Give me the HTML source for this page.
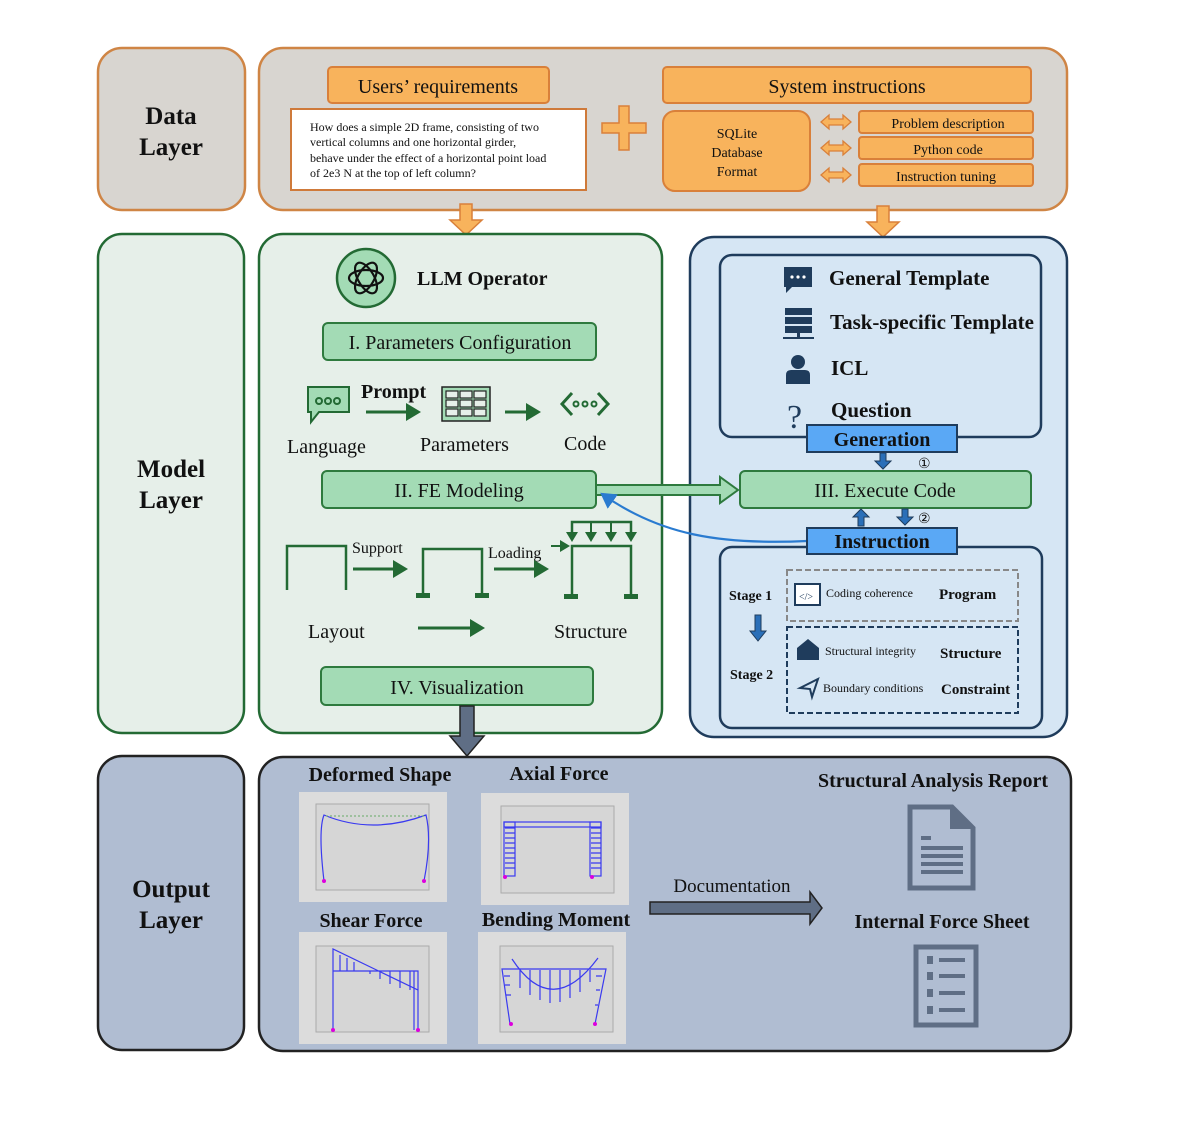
<!DOCTYPE html>
<html><head><meta charset="utf-8"><style>
html,body{margin:0;padding:0;background:#fff}
svg{display:block}
text{font-family:"Liberation Serif",serif;fill:#111}
.b{font-weight:bold}
</style></head><body>
<svg width="1196" height="1141" viewBox="0 0 1196 1141" xmlns="http://www.w3.org/2000/svg">
<defs>
<marker id="ga" markerWidth="6" markerHeight="6" refX="4" refY="3" orient="auto" markerUnits="strokeWidth"><path d="M0,0 L5,3 L0,6 z" fill="#236a34"/></marker>
<marker id="ba" markerWidth="8" markerHeight="8" refX="6" refY="4" orient="auto" markerUnits="strokeWidth"><path d="M0,0 L7,4 L0,8 z" fill="#2a7bd0"/></marker>
</defs>
<!-- DATA LAYER -->
<rect x="98" y="48" width="147" height="162" rx="24" fill="#d8d5d0" stroke="#cf8545" stroke-width="2.5"/>
<text x="171" y="124" font-size="25" class="b" text-anchor="middle">Data</text>
<text x="171" y="155" font-size="25" class="b" text-anchor="middle">Layer</text>
<rect x="259" y="48" width="808" height="162" rx="24" fill="#d8d5d0" stroke="#cf8545" stroke-width="2.5"/>
<rect x="328" y="67" width="221" height="36" rx="4" fill="#f8b35c" stroke="#d9803a" stroke-width="2"/>
<text x="438" y="93" font-size="20" text-anchor="middle">Users’ requirements</text>
<rect x="291" y="109" width="295" height="81" fill="#fff" stroke="#cf7a3a" stroke-width="2"/>
<text font-size="12"><tspan x="310" y="131">How does a simple 2D frame, consisting of two</tspan><tspan x="310" y="146">vertical columns and one horizontal girder,</tspan><tspan x="310" y="162">behave under the effect of a horizontal point load</tspan><tspan x="310" y="177">of 2e3 N at the top of left column?</tspan></text>
<path d="M619,106 h10 v17 h17 v10 h-17 v17 h-10 v-17 h-17 v-10 h17 z" fill="#f8b35c" stroke="#d9803a" stroke-width="1.5"/>
<rect x="663" y="67" width="368" height="36" rx="4" fill="#f8b35c" stroke="#d9803a" stroke-width="2"/>
<text x="847" y="93" font-size="20" text-anchor="middle">System instructions</text>
<rect x="663" y="111" width="147" height="80" rx="12" fill="#f8b35c" stroke="#d9803a" stroke-width="2"/>
<text x="737" y="138" font-size="14" text-anchor="middle">SQLite</text>
<text x="737" y="157" font-size="14" text-anchor="middle">Database</text>
<text x="737" y="176" font-size="14" text-anchor="middle">Format</text>
<g fill="#f8b35c" stroke="#d9803a" stroke-width="1.3">
<path d="M821,122 l8,-7 v4 h14 v-4 l8,7 l-8,7 v-4 h-14 v4 z"/>
<path d="M821,148 l8,-7 v4 h14 v-4 l8,7 l-8,7 v-4 h-14 v4 z"/>
<path d="M821,175 l8,-7 v4 h14 v-4 l8,7 l-8,7 v-4 h-14 v4 z"/>
</g>
<rect x="859" y="111" width="174" height="22" rx="3" fill="#f8b35c" stroke="#d9803a" stroke-width="2"/>
<text x="948" y="128" font-size="14" text-anchor="middle">Problem description</text>
<rect x="859" y="137" width="174" height="22" rx="3" fill="#f8b35c" stroke="#d9803a" stroke-width="2"/>
<text x="948" y="154" font-size="14" text-anchor="middle">Python code</text>
<rect x="859" y="164" width="174" height="22" rx="3" fill="#f8b35c" stroke="#d9803a" stroke-width="2"/>
<text x="946" y="181" font-size="14" text-anchor="middle">Instruction tuning</text>
<path d="M460,204 h12 v16 h10 l-16,15 l-16,-15 h10 z" fill="#f8b35c" stroke="#d9803a" stroke-width="1.5"/>
<path d="M877,206 h12 v16 h10 l-16,15 l-16,-15 h10 z" fill="#f8b35c" stroke="#d9803a" stroke-width="1.5"/>

<!-- MODEL LAYER -->
<rect x="98" y="234" width="146" height="499" rx="24" fill="#e6efe9" stroke="#236a34" stroke-width="2.5"/>
<text x="171" y="477" font-size="25" class="b" text-anchor="middle">Model</text>
<text x="171" y="508" font-size="25" class="b" text-anchor="middle">Layer</text>
<rect x="259" y="234" width="403" height="499" rx="24" fill="#e6efe9" stroke="#236a34" stroke-width="2.5"/>
<circle cx="366" cy="278" r="29" fill="#a3dbb5" stroke="#236a34" stroke-width="2.5"/>
<g fill="none" stroke="#111" stroke-width="2.2">
<ellipse cx="366" cy="278" rx="17" ry="8"/>
<ellipse cx="366" cy="278" rx="17" ry="8" transform="rotate(60 366 278)"/>
<ellipse cx="366" cy="278" rx="17" ry="8" transform="rotate(120 366 278)"/>
</g>
<text x="417" y="285" font-size="20" class="b">LLM Operator</text>
<rect x="323" y="323" width="273" height="37" rx="5" fill="#a3dbb5" stroke="#2e7a3e" stroke-width="2"/>
<text x="460" y="349" font-size="20" text-anchor="middle">I. Parameters Configuration</text>
<path d="M308,387 h41 v25 h-30 l-8,10 v-10 h-3 z" fill="#a3dbb5" stroke="#236a34" stroke-width="2"/>
<g fill="none" stroke="#236a34" stroke-width="2"><circle cx="319" cy="401" r="3"/><circle cx="328" cy="401" r="3"/><circle cx="337" cy="401" r="3"/></g>
<text x="361" y="398" font-size="20" class="b">Prompt</text>
<line x1="366" y1="412" x2="418" y2="412" stroke="#236a34" stroke-width="3" marker-end="url(#ga)"/>
<rect x="442" y="387" width="48" height="34" fill="#a3dbb5" stroke="#222" stroke-width="1.5"/>
<g fill="#e6efe9" stroke="#222" stroke-width="1.2">
<rect x="446" y="391" width="12" height="7"/><rect x="460" y="391" width="12" height="7"/><rect x="474" y="391" width="12" height="7"/>
<rect x="446" y="400" width="12" height="7"/><rect x="460" y="400" width="12" height="7"/><rect x="474" y="400" width="12" height="7"/>
<rect x="446" y="409" width="12" height="7"/><rect x="460" y="409" width="12" height="7"/><rect x="474" y="409" width="12" height="7"/>
</g>
<line x1="505" y1="412" x2="538" y2="412" stroke="#236a34" stroke-width="3" marker-end="url(#ga)"/>
<g fill="none" stroke="#236a34" stroke-width="3"><path d="M572,393 l-10,11 l10,11"/><path d="M598,393 l10,11 l-10,11"/><circle cx="576" cy="404" r="2.5" stroke-width="2"/><circle cx="585" cy="404" r="2.5" stroke-width="2"/><circle cx="594" cy="404" r="2.5" stroke-width="2"/></g>
<text x="287" y="453" font-size="20">Language</text>
<text x="420" y="451" font-size="20">Parameters</text>
<text x="564" y="450" font-size="20">Code</text>
<rect x="322" y="471" width="274" height="37" rx="5" fill="#a3dbb5" stroke="#2e7a3e" stroke-width="2"/>
<text x="459" y="497" font-size="20" text-anchor="middle">II. FE Modeling</text>
<g fill="none" stroke="#236a34" stroke-width="2.5">
<path d="M287,590 v-44 h59 v44"/>
<path d="M423,594 v-45 h59 v45"/>
<path d="M572,596 v-50 h59 v50"/>
<path d="M572,537 v-15 h59 v15"/>
</g>
<g fill="#236a34"><rect x="416" y="593" width="14" height="5"/><rect x="475" y="593" width="14" height="5"/><rect x="564" y="594" width="14" height="5"/><rect x="624" y="594" width="14" height="5"/></g>
<g stroke="#236a34" stroke-width="2" marker-end="url(#ga)">
<line x1="591" y1="523" x2="591" y2="540"/><line x1="611" y1="523" x2="611" y2="540"/><line x1="631" y1="523" x2="631" y2="540"/><line x1="572" y1="523" x2="572" y2="540"/>
<line x1="551" y1="546" x2="568" y2="546"/>
</g>
<text x="352" y="553" font-size="16">Support</text>
<text x="488" y="558" font-size="16">Loading</text>
<line x1="353" y1="569" x2="405" y2="569" stroke="#236a34" stroke-width="3" marker-end="url(#ga)"/>
<line x1="494" y1="569" x2="546" y2="569" stroke="#236a34" stroke-width="3" marker-end="url(#ga)"/>
<line x1="418" y1="628" x2="482" y2="628" stroke="#236a34" stroke-width="3" marker-end="url(#ga)"/>
<text x="308" y="638" font-size="20">Layout</text>
<text x="554" y="638" font-size="20">Structure</text>
<rect x="321" y="667" width="272" height="38" rx="5" fill="#a3dbb5" stroke="#2e7a3e" stroke-width="2"/>
<text x="457" y="694" font-size="20" text-anchor="middle">IV. Visualization</text>
<path d="M460,706 h14 v30 h10 l-17,20 l-17,-20 h10 z" fill="#5f6e85" stroke="#222" stroke-width="1.5"/>

<rect x="690" y="237" width="377" height="500" rx="24" fill="#d6e6f4" stroke="#1f3c5c" stroke-width="2.5"/>
<rect x="720" y="255" width="321" height="182" rx="12" fill="#d6e6f4" stroke="#1f3c5c" stroke-width="2.5"/>
<path d="M784,267 h28 v20 h-20 l-6,6 v-6 h-2 z" fill="#1f3c5c"/>
<g fill="#fff"><circle cx="792" cy="277" r="1.6"/><circle cx="798" cy="277" r="1.6"/><circle cx="804" cy="277" r="1.6"/></g>
<text x="829" y="285" font-size="21" class="b">General Template</text>
<g fill="#1f3c5c"><rect x="785" y="308" width="27" height="7"/><rect x="785" y="317" width="27" height="7"/><rect x="785" y="326" width="27" height="7"/><rect x="783" y="337" width="31" height="2"/><rect x="797" y="333" width="3" height="5"/></g>
<text x="830" y="329" font-size="21" class="b">Task-specific Template</text>
<circle cx="798" cy="362" r="7" fill="#1f3c5c"/>
<path d="M786,384 v-9 q0,-5 5,-5 h14 q5,0 5,5 v9 z" fill="#1f3c5c"/>
<text x="831" y="375" font-size="21" class="b">ICL</text>
<text x="787" y="428" font-size="34" style="fill:#1f3c5c">?</text>
<text x="831" y="417" font-size="21" class="b">Question</text>
<rect x="807" y="425" width="150" height="27" fill="#5aa8f5" stroke="#1f3c5c" stroke-width="2"/>
<text x="882" y="446" font-size="20" class="b" text-anchor="middle">Generation</text>
<path d="M880,453 h6 v8 h5 l-8,8 l-8,-8 h5 z" fill="#2a6fb8" stroke="#1f3c5c"/>
<text x="918" y="468" font-size="14">①</text>
<path d="M596,485 h124 v-8 l18,13 l-18,13 v-8 h-124 z" fill="#a3dbb5" stroke="#2e7a3e" stroke-width="2"/>
<rect x="740" y="471" width="291" height="37" rx="5" fill="#a3dbb5" stroke="#2e7a3e" stroke-width="2"/>
<text x="885" y="497" font-size="20" text-anchor="middle">III. Execute Code</text>
<path d="M858,526 h6 v-9 h5 l-8,-8 l-8,8 h5 z" fill="#2a6fb8" stroke="#1f3c5c"/>
<path d="M902,509 h6 v8 h5 l-8,8 l-8,-8 h5 z" fill="#2a6fb8" stroke="#1f3c5c"/>
<text x="918" y="523" font-size="14">②</text>
<path d="M807,541 C720,545 660,535 602,494" fill="none" stroke="#2a7bd0" stroke-width="2.2" marker-end="url(#ba)"/>
<rect x="720" y="547" width="322" height="181" rx="12" fill="#d6e6f4" stroke="#1f3c5c" stroke-width="2.5"/>
<rect x="807" y="528" width="150" height="26" fill="#5aa8f5" stroke="#1f3c5c" stroke-width="2"/>
<text x="882" y="548" font-size="20" class="b" text-anchor="middle">Instruction</text>
<rect x="787" y="570" width="231" height="51" fill="none" stroke="#888" stroke-width="2" stroke-dasharray="6,3"/>
<rect x="787" y="627" width="231" height="86" fill="none" stroke="#1f3c5c" stroke-width="2" stroke-dasharray="6,3"/>
<text x="729" y="600" font-size="14" class="b">Stage 1</text>
<path d="M755,615 h6 v16 h5 l-8,10 l-8,-10 h5 z" fill="#2a6fb8" stroke="#1f3c5c"/>
<text x="730" y="679" font-size="14" class="b">Stage 2</text>
<rect x="795" y="584" width="25" height="21" fill="#fff" stroke="#1f3c5c" stroke-width="2"/>
<text x="799" y="600" font-size="10" style="fill:#1f3c5c">&lt;/&gt;</text>
<text x="826" y="597" font-size="12">Coding coherence</text>
<text x="939" y="599" font-size="15" class="b">Program</text>
<path d="M797,660 v-12 l11,-9 l11,9 v12 z" fill="#1f3c5c"/>
<text x="825" y="655" font-size="12">Structural integrity</text>
<text x="940" y="658" font-size="15" class="b">Structure</text>
<path d="M800,688 l18,-9 l-6,18 l-2,-8 z" fill="none" stroke="#1f3c5c" stroke-width="2"/>
<text x="823" y="692" font-size="12">Boundary conditions</text>
<text x="941" y="694" font-size="15" class="b">Constraint</text>

<rect x="98" y="756" width="146" height="294" rx="24" fill="#b0bdd2" stroke="#222" stroke-width="2.5"/>
<text x="171" y="897" font-size="25" class="b" text-anchor="middle">Output</text>
<text x="171" y="928" font-size="25" class="b" text-anchor="middle">Layer</text>
<rect x="259" y="757" width="812" height="294" rx="24" fill="#b0bdd2" stroke="#222" stroke-width="2.5"/>
<text x="380" y="781" font-size="20" class="b" text-anchor="middle">Deformed Shape</text>
<text x="559" y="780" font-size="20" class="b" text-anchor="middle">Axial Force</text>
<text x="371" y="927" font-size="20" class="b" text-anchor="middle">Shear Force</text>
<text x="556" y="926" font-size="20" class="b" text-anchor="middle">Bending Moment</text>
<g fill="#dcdcdc"><rect x="299" y="792" width="148" height="110"/><rect x="481" y="793" width="148" height="112"/><rect x="299" y="932" width="148" height="112"/><rect x="478" y="932" width="148" height="112"/></g>
<g fill="#d6d6d6" stroke="#aaa" stroke-width="1"><rect x="316" y="804" width="113" height="86"/><rect x="501" y="806" width="113" height="87"/><rect x="316" y="946" width="113" height="86"/><rect x="500" y="946" width="113" height="86"/></g>
<g fill="none" stroke="#3a3af0" stroke-width="1.2">
<path d="M324,881 Q318,830 324,815 Q372,835 426,815 Q432,840 424,881"/>
<rect x="504" y="822" width="11" height="54"/><rect x="590" y="822" width="11" height="54"/><rect x="504" y="822" width="97" height="5"/>
<path d="M505,828 h10 M505,833 h10 M505,838 h10 M505,843 h10 M505,848 h10 M505,853 h10 M505,858 h10 M505,863 h10 M505,868 h10 M591,828 h10 M591,833 h10 M591,838 h10 M591,843 h10 M591,848 h10 M591,853 h10 M591,858 h10 M591,863 h10 M591,868 h10"/>
<path d="M333,1030 V949 L418,990 V971 H333 M333,971 v-20 M340,955 v16 M347,958 v13 M354,962 v9 M370,974 v-3 M380,979 v-8 M390,984 v-13 M400,988 v-17 M410,990 v-19 M414,1030 V971 M418,1030 V990"/>
<path d="M510,1024 L502,969 H606 L595,1024 M512,959 Q552,1020 598,958 M520,970 v18 M530,970 v25 M540,970 v30 M550,970 v33 M560,970 v32 M570,970 v28 M580,970 v22 M590,970 v12 M504,976 h6 M505,985 h5 M506,995 h5 M602,976 h-6 M600,990 h-4 M598,1005 h-3"/>
</g>
<path d="M326,816 h100" stroke="#6a6" stroke-width="1" stroke-dasharray="2,2"/>
<g fill="#d0d"><circle cx="324" cy="881" r="2"/><circle cx="424" cy="881" r="2"/><circle cx="505" cy="877" r="2"/><circle cx="592" cy="877" r="2"/><circle cx="333" cy="1030" r="2"/><circle cx="418" cy="1030" r="2"/><circle cx="511" cy="1024" r="2"/><circle cx="595" cy="1024" r="2"/></g>
<text x="732" y="892" font-size="19" text-anchor="middle">Documentation</text>
<path d="M650,902 h160 v-10 l12,16 l-12,16 v-10 h-160 z" fill="#5f6e85" stroke="#222" stroke-width="1.5"/>
<text x="933" y="787" font-size="20" class="b" text-anchor="middle">Structural Analysis Report</text>
<path d="M910,807 h42 l21,21 v60 h-63 z" fill="none" stroke="#5f6e85" stroke-width="5"/>
<path d="M950,807 v22 h23 z" fill="#5f6e85"/>
<g fill="#5f6e85"><rect x="921" y="836" width="10" height="4"/><rect x="921" y="846" width="42" height="4"/><rect x="921" y="854" width="42" height="4"/><rect x="921" y="862" width="42" height="4"/><rect x="921" y="870" width="42" height="4"/></g>
<text x="942" y="928" font-size="20" class="b" text-anchor="middle">Internal Force Sheet</text>
<rect x="916" y="947" width="60" height="78" fill="none" stroke="#5f6e85" stroke-width="5"/>
<g fill="#5f6e85"><rect x="927" y="956" width="6" height="8"/><rect x="939" y="958" width="26" height="4"/><rect x="927" y="972" width="6" height="8"/><rect x="939" y="974" width="26" height="4"/><rect x="927" y="989" width="6" height="8"/><rect x="939" y="991" width="26" height="4"/><rect x="927" y="1006" width="6" height="8"/><rect x="939" y="1008" width="26" height="4"/></g>
</svg>
</body></html>
